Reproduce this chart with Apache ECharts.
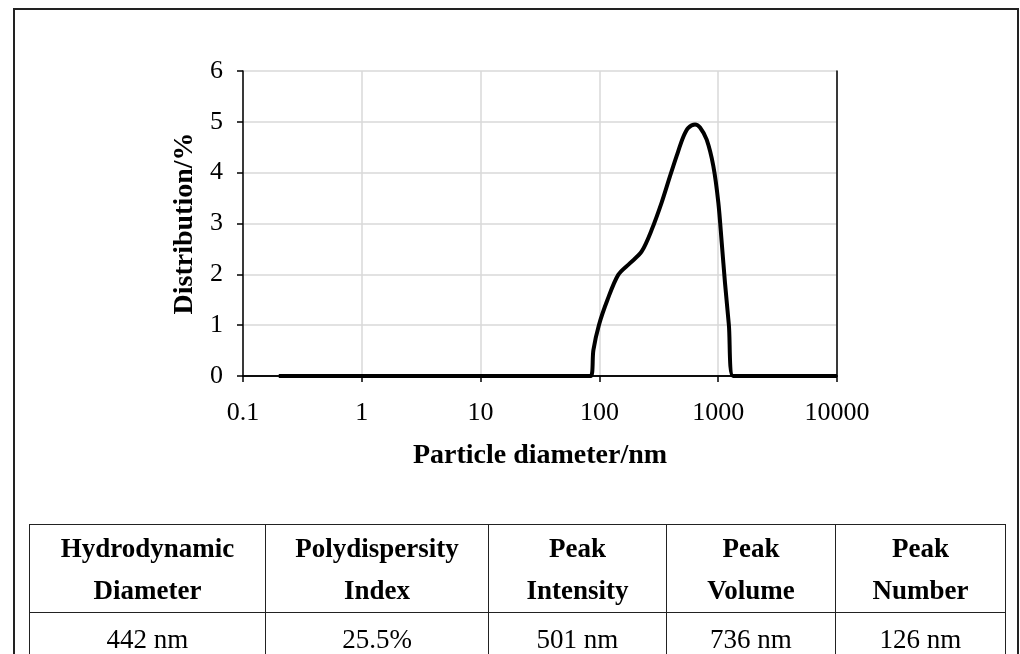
<!DOCTYPE html>
<html>
<head>
<meta charset="utf-8">
<script src="https://cdn.jsdelivr.net/npm/echarts@6/dist/echarts.min.js"></script>
<style>
  html, body { margin: 0; padding: 0; background: #fff; }
  #wrap { position: relative; width: 1020px; height: 654px; overflow: hidden; }
  #chart { position: absolute; left: 0; top: 0; width: 1020px; height: 654px; }
  #frame {
    position: absolute; left: 13px; top: 8px; width: 1006px; height: 700px;
    border: 2px solid #222; box-sizing: border-box;
  }
  #stats {
    position: absolute; left: 29px; top: 524px; width: 976px;
    border-collapse: collapse; table-layout: fixed;
    font-family: "Liberation Serif", "DejaVu Serif", serif; font-size: 27px; color: #000;
  }
  #stats td, #stats th { border: 1.5px solid #222; text-align: center; padding: 0; overflow: visible; white-space: nowrap; }
  #stats th { height: 87px; font-weight: bold; line-height: 42px; }
  #stats td { height: 52px; }
</style>
</head>
<body>
<div id="wrap">
  <div id="frame"></div>
  <div id="chart"></div>
  <table id="stats"><colgroup id="cols"></colgroup><tr id="head"></tr><tr id="vals"></tr></table>
</div>
<script>
// 粒径 (nm) 与分布 (%)
const diameters = [0.2, 84.5, 89, 99, 117, 144, 181, 227, 276, 334, 393, 447, 508, 560, 638, 703, 800, 910, 1003, 1071, 1141, 1230, 1334, 10000]
const distribution = [0, 0, 0.51, 1.0, 1.5, 1.99, 2.22, 2.45, 2.88, 3.41, 3.93, 4.33, 4.70, 4.88, 4.95, 4.89, 4.65, 4.13, 3.41, 2.62, 1.83, 1.0, 0, 0]

// 表格
const tableHeads = [['Hydrodynamic', 'Diameter'], ['Polydispersity', 'Index'], ['Peak', 'Intensity'], ['Peak', 'Volume'], ['Peak', 'Number']]
const tableValues = ['442 nm', '25.5%', '501 nm', '736 nm', '126 nm']
const colWidths = [236, 223, 178, 169, 170]

const cols = document.getElementById('cols')
const head = document.getElementById('head')
const vals = document.getElementById('vals')
tableHeads.forEach((h, i) => {
  const col = document.createElement('col')
  col.style.width = colWidths[i] + 'px'
  cols.appendChild(col)
  const th = document.createElement('th')
  th.innerHTML = h.join('<br>')
  head.appendChild(th)
  const td = document.createElement('td')
  td.textContent = tableValues[i]
  vals.appendChild(td)
})

const font = '"Liberation Serif", "DejaVu Serif", serif'
const tickFont = { fontFamily: font, fontSize: 26, color: '#000' }
const nameFont = { fontFamily: font, fontWeight: 'bold', fontSize: 28, color: '#000' }
const black = { color: '#000', width: 1.5 }

const chart = echarts.init(document.getElementById('chart'))
const option = {
  animation: false,
  grid: {
    left: 243,
    top: 71,
    right: 183,
    bottom: 278
  },
  xAxis: [
    {
      type: 'log',
      logBase: 10,
      min: 0.1,
      max: 10000,
      name: 'Particle diameter/nm',
      nameLocation: 'middle',
      nameGap: 66,
      nameTextStyle: nameFont,
      axisLine: { lineStyle: black },
      axisTick: { show: true, length: 6, lineStyle: black },
      minorTick: { show: false },
      axisLabel: Object.assign({ margin: 24, formatter: v => String(v) }, tickFont),
      splitLine: { show: true, lineStyle: { color: '#d9d9d9', width: 1.5 } },
      z: 3
    },
    {
      // 顶部边框
      type: 'log',
      logBase: 10,
      min: 0.1,
      max: 10000,
      position: 'top',
      axisLine: { show: true, lineStyle: black },
      axisTick: { show: false },
      axisLabel: { show: false },
      splitLine: { show: false },
      z: 3
    }
  ],
  yAxis: [
    {
      type: 'value',
      min: 0,
      max: 6,
      interval: 1,
      name: 'Distribution/%',
      nameLocation: 'middle',
      nameGap: 42,
      nameTextStyle: nameFont,
      axisLine: { show: true, lineStyle: black },
      axisTick: { show: true, length: 6, lineStyle: black },
      axisLabel: Object.assign({ margin: 20 }, tickFont),
      splitLine: { show: true, lineStyle: { color: '#d9d9d9', width: 1.5 } },
      z: 3
    },
    {
      // 右侧边框
      type: 'value',
      min: 0,
      max: 6,
      position: 'right',
      axisLine: { show: true, lineStyle: black },
      axisTick: { show: false },
      axisLabel: { show: false },
      splitLine: { show: false },
      z: 3
    }
  ],
  series: [
    {
      type: 'line',
      data: diameters.map((d, i) => [d, distribution[i]]),
      smooth: 0.3,
      showSymbol: false,
      lineStyle: { color: '#000', width: 4 },
      z: 4
    }
  ]
}
chart.setOption(option)
</script>
</body>
</html>
